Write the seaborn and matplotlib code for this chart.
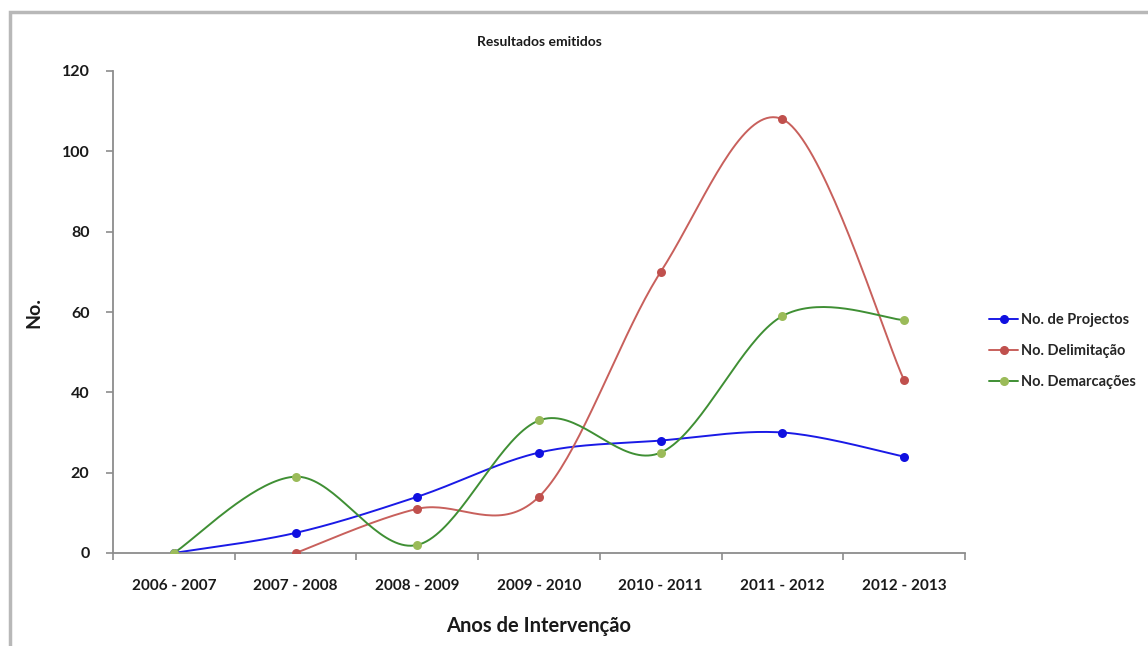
import numpy as np
import pandas as pd
import matplotlib
matplotlib.use("Agg")
import matplotlib.pyplot as plt
from matplotlib.lines import Line2D
from matplotlib.patches import Rectangle
import seaborn as sns

periods = ["2006 - 2007", "2007 - 2008", "2008 - 2009", "2009 - 2010",
           "2010 - 2011", "2011 - 2012", "2012 - 2013"]
projectos = [0, 5, 14, 25, 28, 30, 24]
delimitacao = [np.nan, 0, 11, 14, 70, 108, 43]
demarcacoes = [0, 19, 2, 33, 25, 59, 58]
series_names = ["No. de Projectos", "No. Delimitação", "No. Demarcações"]
y_ticks = [0, 20, 40, 60, 80, 100, 120]

line_colors = ["#1a1ae6", "#c8605c", "#3f8f34"]
marker_colors = ["#1010e0", "#c0504d", "#9bbb59"]

sns.set_theme(style="white")
plt.rcParams["font.family"] = ["Lato", "DejaVu Sans"]


def smooth_curve(xs, ys, steps=40):
    """Catmull-Rom style smoothed path through the given points."""
    xs = np.asarray(xs, float)
    ys = np.asarray(ys, float)
    px, py = [], []
    n = len(xs)
    for i in range(n - 1):
        p0 = np.array([xs[max(i - 1, 0)], ys[max(i - 1, 0)]])
        p1 = np.array([xs[i], ys[i]])
        p2 = np.array([xs[i + 1], ys[i + 1]])
        p3 = np.array([xs[min(i + 2, n - 1)], ys[min(i + 2, n - 1)]])
        c1 = p1 + (p2 - p0) / 6.0
        c2 = p2 - (p3 - p1) / 6.0
        t = np.linspace(0, 1, steps)[:, None]
        seg = ((1 - t) ** 3) * p1 + 3 * ((1 - t) ** 2) * t * c1 \
            + 3 * (1 - t) * t ** 2 * c2 + t ** 3 * p2
        if i > 0:
            seg = seg[1:]
        px.extend(seg[:, 0])
        py.extend(seg[:, 1])
    return np.array(px), np.array(py)


fig = plt.figure(figsize=(11.48, 6.46), dpi=100)
fig.patch.set_facecolor("white")
fig.add_artist(Rectangle((10 / 1148, -0.01), 1.2, 1 - 12 / 646 + 0.01,
                         transform=fig.transFigure, fill=False,
                         edgecolor="#b8b8b8", linewidth=2.5))

ax = fig.add_axes([113 / 1148, 1 - 553 / 646, (965 - 113) / 1148, (553 - 71) / 646])

x_idx = np.arange(len(periods))
for vals, lc, mc in zip([projectos, delimitacao, demarcacoes], line_colors, marker_colors):
    v = np.asarray(vals, float)
    mask = ~np.isnan(v)
    sx, sy = smooth_curve(x_idx[mask], v[mask])
    sns.lineplot(x=sx, y=sy, ax=ax, color=lc, linewidth=1.4, sort=False,
                 estimator=None)
    sns.scatterplot(x=x_idx[mask], y=v[mask], ax=ax, color=mc, s=42,
                    edgecolor=mc, linewidth=0, zorder=5)

ax.set_xlim(-0.5, len(periods) - 0.5)
ax.set_ylim(0, 120)
ax.set_yticks(y_ticks)
ax.set_xticks(x_idx)
ax.set_xticklabels(periods)
ax.set_xticks(np.arange(-0.5, len(periods)), minor=True)

for s in ["top", "right"]:
    ax.spines[s].set_visible(False)
for s in ["left", "bottom"]:
    ax.spines[s].set_color("#8c8c8c")
    ax.spines[s].set_linewidth(1.3)

ax.tick_params(axis="x", which="major", length=0, pad=24, labelsize=11)
ax.tick_params(axis="x", which="minor", length=5, color="#8c8c8c", width=1.2,
               direction="out", bottom=True)
ax.tick_params(axis="y", length=5, color="#8c8c8c", width=1.2, direction="out",
               left=True, pad=12, labelsize=11.5)
for lab in ax.get_xticklabels():
    lab.set_verticalalignment("center")
for lab in ax.get_xticklabels() + ax.get_yticklabels():
    lab.set_fontweight("bold")
    lab.set_color("#1a1a1a")

ax.set_xlabel("Anos de Intervenção", fontsize=14.5, fontweight="bold",
              labelpad=16, color="#1a1a1a")
ax.set_ylabel("No.", fontsize=14, fontweight="bold", labelpad=14, color="#1a1a1a")
ax.set_title("Resultados emitidos", fontsize=10, fontweight="bold", pad=18,
             color="#1a1a1a")

handles = [Line2D([0], [0], color=lc, marker="o", markerfacecolor=mc,
                  markeredgecolor=mc, markersize=5.5, linewidth=1.4)
           for lc, mc in zip(line_colors, marker_colors)]
leg = fig.legend(handles, series_names, loc="center left",
                 bbox_to_anchor=(976 / 1148, 1 - 351 / 646), frameon=False,
                 prop={"weight": "bold", "size": 10.5}, handlelength=2.0,
                 handletextpad=0.2, labelspacing=1.15)

fig.savefig("out.png", dpi=100)
